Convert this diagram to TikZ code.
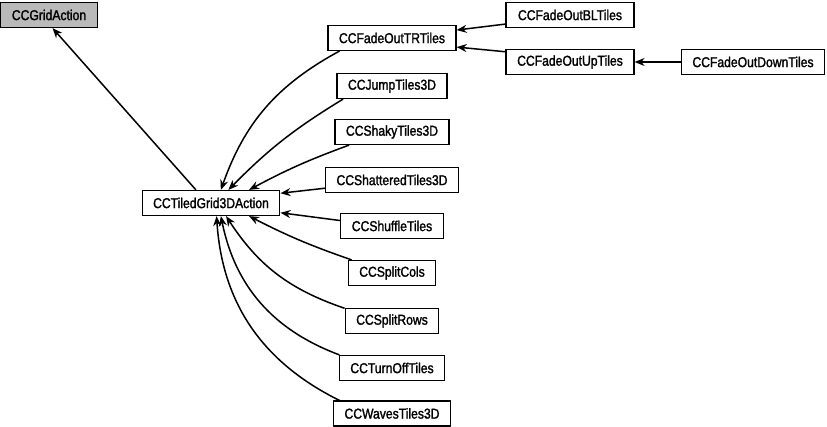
\documentclass[tikz,border=0pt]{standalone}
\usepackage{fontspec}
\setmainfont{Liberation Sans}[FakeStretch=0.85,FakeBold=1.6]
\usetikzlibrary{arrows.meta}

\begin{document}
\begin{tikzpicture}[x=1pt,y=1pt,->,>={Stealth[length=10pt,width=8pt]},line width=1.5pt,
    cls/.style={draw,rectangle,minimum height=25pt,inner xsep=11pt,inner ysep=0pt,
      font=\fontsize{14.3}{16}\selectfont,line width=1.2pt},
    base/.style={cls,fill=black!27}]
      \useasboundingbox (0,0) rectangle (827,427);
      \node[base] (grid) at (49,412) {CCGridAction};
      \node[cls] (tiled) at (211,224) {CCTiledGrid3DAction};
      \node[cls] (tr) at (392,389) {CCFadeOutTRTiles};
      \node[cls,minimum width=128pt] (bl) at (570,412) {CCFadeOutBLTiles};
      \node[cls,minimum width=128pt] (up) at (570,365) {CCFadeOutUpTiles};
      \node[cls] (down) at (753,365) {CCFadeOutDownTiles};
      \node[cls] (jump) at (392,341) {CCJumpTiles3D};
      \node[cls] (shaky) at (392,295) {CCShakyTiles3D};
      \node[cls] (shattered) at (392,247) {CCShatteredTiles3D};
      \node[cls] (shuffle) at (392,201) {CCShuffleTiles};
      \node[cls] (cols) at (392,154) {CCSplitCols};
      \node[cls] (rows) at (392,106) {CCSplitRows};
      \node[cls] (turnoff) at (392,59) {CCTurnOffTiles};
      \node[cls] (waves) at (392,13.5) {CCWavesTiles3D};
      \path (tiled.139) edge (grid.-75)
        (tr.194) edge[bend right=21] (tiled.53)
        (jump.195) edge[bend right=7] (tiled.37)
        (shaky.197) edge[bend right=4] (tiled.19)
        (shattered.187) edge (tiled.8)
        (shuffle.174) edge (tiled.-8)
        (cols.162) edge[bend left=4] (tiled.-19)
        (rows.165) edge[bend left=19] (tiled.-41)
        (turnoff.166) edge[bend left=29] (tiled.-53)
        (waves.166) edge[bend left=30] (tiled.-67)
        (bl.188) edge (tr.7)
        (up.171) edge (tr.-8)
        (down.west) edge (up.east);
    \end{tikzpicture}
\end{document}
